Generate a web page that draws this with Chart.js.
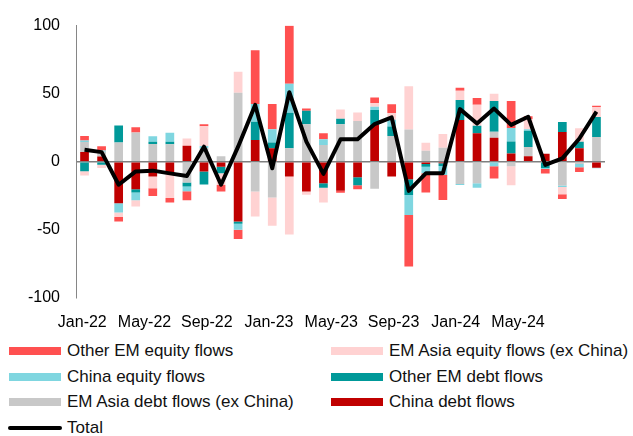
<!DOCTYPE html>
<html>
<head>
<meta charset="utf-8">
<script src="https://cdn.jsdelivr.net/npm/chart.js"></script>
<style>
  body { margin: 0; background: #fff; }
  #wrap { position: relative; width: 633px; height: 436px; font-family: "Liberation Sans", Arial, sans-serif; }
  #chartBox { position: absolute; left: 0; top: 0; width: 633px; height: 336px; }
  .item { position: absolute; height: 24px; display: flex; align-items: center; font-size: 17px; color: #111; white-space: nowrap; }
  .sw { width: 52px; height: 8px; margin-right: 6px; }
  .ln { width: 54px; height: 3.5px; border-radius: 2px; background: #000; margin-right: 5px; margin-left: -1px; }
</style>
</head>
<body>
<div id="wrap">
  <div id="chartBox"><canvas id="flowsChart"></canvas></div>
  <div id="legend"></div>
</div>
<script>
// months Jan-22 .. Jul-24
const months = ['Jan-22','Feb-22','Mar-22','Apr-22','May-22','Jun-22','Jul-22','Aug-22','Sep-22','Oct-22','Nov-22','Dec-22',
                'Jan-23','Feb-23','Mar-23','Apr-23','May-23','Jun-23','Jul-23','Aug-23','Sep-23','Oct-23','Nov-23','Dec-23',
                'Jan-24','Feb-24','Mar-24','Apr-24','May-24','Jun-24','Jul-24'];
const tickLabels = ['Jan-22','May-22','Sep-22','Jan-23','May-23','Sep-23','Jan-24','May-24'];

const chinaDebt   = [7.1, 3.7, -30.5, -20.3, -11, -8, 11.7, -7.3, -3.7, -44, 15.9, 9.8, -11, -22, -15.9, -21.3, -11.5, 26.9, -11, -13, -1.7, -1.2, 30.6, 20.8, 17.5, 5.9, 4, 5.8, 21.8, 9.8, -4.4];
const emAsiaDebt  = [7.3, 3.5, 14, 21.5, 13, 12.7, -15.4, 10, 4, 50.6, -22, -26.4, 9.8, 27.4, 12.2, 27.4, 29.8, -20, 18.8, 23.7, 8, 10.3, -16.4, -15.9, 4.4, -3.4, 6.8, 0, -17.6, -1.7, 18.1];
const otherEmDebt = [-7.1, -2.2, 12.5, -2.4, 1.7, 2, -2.9, -9.5, -4.9, -1.7, 13.4, 4.2, 26.2, 10, -3.2, 4.2, -5.9, 11, 7, -11.5, -2, -2, 14.7, 5.6, 22.6, 9, 12, -4.6, 7.3, 4.9, 14.7];
const chinaEquity = [1.2, 1, -6.8, -5.6, 3.9, 6.6, -3.4, 1.5, 0, -4.4, 13, 9.8, 21.3, 0, 4.2, 0, 0, 2.4, 5, -14.7, -4.9, -6.6, -0.7, -3.2, -3.3, 9.8, 1, -0.8, -1, -2.5, -0.5];
const emAsiaEquity = [-3, -2.4, -3.4, -4.6, -8.6, -18.8, 5.4, 14.5, -8.5, 15.4, -18.3, -20.8, -42.5, -2.4, -11, 6.8, 6.4, 2.9, 4.9, 31.8, 5.9, 10, 6.8, 15.4, 5.5, -13.9, 7.5, 0, -5.4, 9.8, 7.3];
const otherEmEquity = [3.2, 3.2, -3.2, 3.7, -5.6, -3.2, -6.6, 1.5, -4.9, -6.8, 39.6, 18.6, 42.6, 1.7, 4.4, -1.5, -2.9, 3.9, 6.5, -37.9, -14, -18.3, 2.2, 4.9, -9, 19.8, 2, -3.4, -3.4, -3.4, 1];
const total = [8.7, 7, -17, -7.2, -6.6, -8.6, -10.5, 11, -17, 11, 41.7, -4.9, 51, 14.7, -9, 16.4, 16.4, 27.6, 32.5, -21.5, -8.6, -8.6, 38.6, 28, 39, 27, 33, -2.4, 2.4, 17, 36.8];

const colors = {
    otherEmEquity: '#FF5050',
    emAsiaEquity: '#FFD2D2',
    chinaEquity: '#7FD6E0',
    otherEmDebt: '#009999',
    emAsiaDebt: '#C8C8C8',
    chinaDebt: '#C00000'
};

function barSet(label, data, color) {
    return { type: 'bar', label: label, data: data, backgroundColor: color, borderWidth: 0,
             stack: 'flows', order: 1, barPercentage: 0.51, categoryPercentage: 1 };
}

const ctx = document.getElementById('flowsChart');
new Chart(ctx, {
    data: {
        labels: months,
        datasets: [
            barSet('China debt flows', chinaDebt, colors.chinaDebt),
            barSet('EM Asia debt flows (ex China)', emAsiaDebt, colors.emAsiaDebt),
            barSet('Other EM debt flows', otherEmDebt, colors.otherEmDebt),
            barSet('China equity flows', chinaEquity, colors.chinaEquity),
            barSet('EM Asia equity flows (ex China)', emAsiaEquity, colors.emAsiaEquity),
            barSet('Other EM equity flows', otherEmEquity, colors.otherEmEquity),
            {
                type: 'line', label: 'Total', data: total, borderColor: '#000', borderWidth: 4,
                pointRadius: 0, tension: 0, stack: 'total', order: 0, borderJoinStyle: 'round'
            }
        ]
    },
    options: {
        responsive: true,
        maintainAspectRatio: false,
        animation: false,
        layout: { padding: { top: 25.5, right: 28, bottom: 0, left: 0 } },
        plugins: { legend: { display: false }, tooltip: { enabled: false } },
        scales: {
            x: { type: 'category', stacked: true, display: false },
            // labels sit on their own axis, spaced as in the original
            xl: {
                type: 'linear', position: 'bottom', min: -0.405, max: 33.59,
                grid: { display: false }, border: { display: false },
                afterFit: function (scale) { scale.height = 38.3; },
                ticks: {
                    stepSize: 4, includeBounds: false, autoSkip: false, maxRotation: 0, padding: 7,
                    color: '#000', font: { family: 'Liberation Sans', size: 16 },
                    callback: function (v) { return tickLabels[v / 4]; }
                }
            },
            y: {
                stacked: true, min: -100, max: 100,
                afterFit: function (scale) { scale.width = 76; },
                border: { display: true, color: '#868686', width: 1 },
                grid: {
                    drawTicks: false,
                    color: function (c) { return c.tick.value === 0 ? '#7f7f7f' : 'transparent'; },
                    lineWidth: 1.5
                },
                ticks: { stepSize: 50, padding: 16, color: '#000', font: { family: 'Liberation Sans', size: 16 } }
            }
        }
    }
});

// legend in two columns, same order as the original
const legendItems = [
    ['Other EM equity flows', colors.otherEmEquity, 9, 351],
    ['EM Asia equity flows (ex China)', colors.emAsiaEquity, 331, 351],
    ['China equity flows', colors.chinaEquity, 9, 377],
    ['Other EM debt flows', colors.otherEmDebt, 331, 377],
    ['EM Asia debt flows (ex China)', colors.emAsiaDebt, 9, 402],
    ['China debt flows', colors.chinaDebt, 331, 402]
];
const legend = document.getElementById('legend');
legendItems.forEach(function (it) {
    const d = document.createElement('div');
    d.className = 'item';
    d.style.left = it[2] + 'px';
    d.style.top = (it[3] - 12) + 'px';
    d.innerHTML = '<span class="sw" style="background:' + it[1] + '"></span>' + it[0];
    legend.appendChild(d);
});
const t = document.createElement('div');
t.className = 'item';
t.style.left = '9px';
t.style.top = (428 - 12) + 'px';
t.innerHTML = '<span class="ln"></span>Total';
legend.appendChild(t);
</script>
</body>
</html>
